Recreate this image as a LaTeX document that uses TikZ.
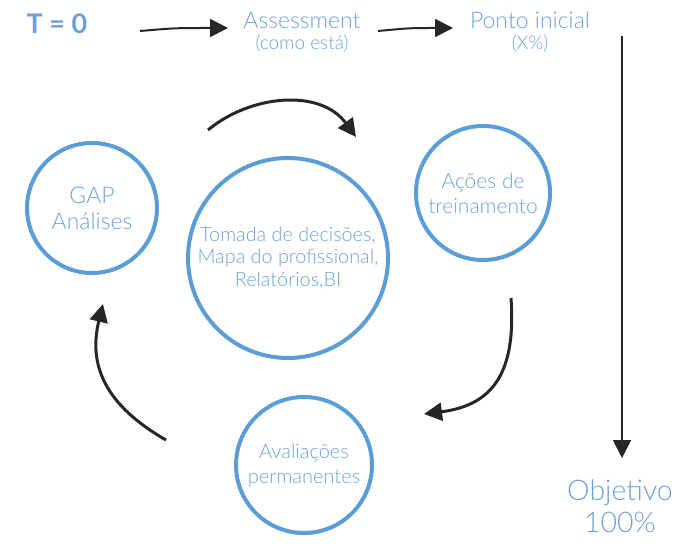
\documentclass[tikz,border=0pt]{standalone}
\usepackage{fontspec}
\setmainfont{Lato}[UprightFont=* Light, BoldFont=* Bold]
\usepackage{tikz}
\usetikzlibrary{arrows.meta}
\definecolor{ringblue}{RGB}{91,157,215}
\definecolor{textblue}{RGB}{110,160,218}
\tikzstyle{ring} = [circle, draw=ringblue, line width=4pt, text=textblue, align=center, inner sep=0pt]
\tikzstyle{label} = [text=textblue, align=center, font=\fontsize{23}{26}\selectfont]
\tikzstyle{arrow} = [line width=2pt, draw=black!85, -{Triangle[length=18pt,width=18pt]}]

\begin{document}
\begin{tikzpicture}[x=1pt, y=-1pt]
\useasboundingbox (0,0) rectangle (692,553);

% Nodes
\node (t0) [text=textblue, font=\fontsize{27}{30}\selectfont\bfseries] at (57,24) {T = 0};
\node (assess) [label] at (302,32) {Assessment\\[-5pt]{\fontsize{19}{22}\selectfont (como está)}};
\node (ponto) [label] at (530,32) {Ponto inicial\\[-5pt]{\fontsize{19}{22}\selectfont (X\%)}};
\node (gap) [ring, minimum size=130pt, font=\fontsize{23}{26}\selectfont] at (92,208) {GAP\\Análises};
\node (tomada) [ring, minimum size=200pt, font=\fontsize{19.8}{22.5}\selectfont] at (288,258) {Tomada de decisões,\\Mapa do profissional,\\Relatórios,BI};
\node (acoes) [ring, minimum size=134pt, font=\fontsize{21}{25}\selectfont] at (483,193) {Ações de\\treinamento};
\node (aval) [ring, minimum size=136pt, font=\fontsize{20}{25}\selectfont] at (304,465) {Avaliações\\permanentes};
\node (objetivo) [text=textblue, align=center, font=\fontsize{28.5}{32}\selectfont] at (620,506) {Objetivo\\100\%};

% Free ends of the curved arrows
\coordinate (arcA) at (208,130);
\coordinate (arcB) at (356,137);
\coordinate (arcC) at (511,298);
\coordinate (arcD) at (424,414);
\coordinate (arcE) at (166,440);
\coordinate (arcF) at (103,304);
\coordinate (vtop) at (622,36);
\coordinate (vbot) at (622,458);

% Arrows
\draw [arrow] (140,31) .. controls (175,28) .. (228,28);
\draw [arrow] (378,31) .. controls (410,28) .. (453,28);
\draw [arrow] (vtop) -- (vbot);
\draw [arrow, line width=3pt] (arcA) .. controls (250,95) and (320,88) .. (arcB);
\draw [arrow, line width=3pt] (arcC) .. controls (516,370) and (495,405) .. (arcD);
\draw [arrow, line width=3pt] (arcE) .. controls (105,405) and (88,365) .. (arcF);

\end{tikzpicture}
\end{document}
